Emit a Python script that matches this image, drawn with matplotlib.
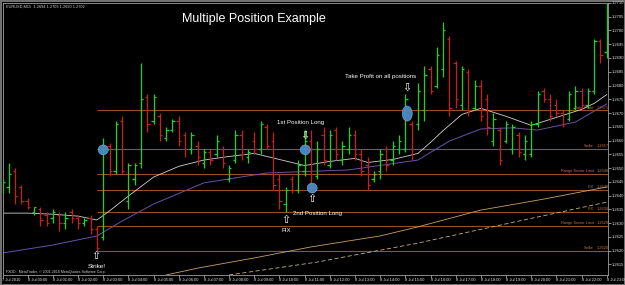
import numpy as np
import matplotlib
matplotlib.use("Agg")
from matplotlib import pyplot as plt
from matplotlib.patches import Ellipse

# M15 bars, 7 Jul 23:00 .. 8 Jul 23:00
opens = [1.2643, 1.2643, 1.2649, 1.2643, 1.2638, 1.2634, 1.2635, 1.2633, 1.2632, 1.2633,
         1.2630, 1.2634, 1.2632, 1.2630, 1.2632, 1.2628, 1.2625, 1.2658, 1.2649, 1.2667,
         1.2638, 1.2646, 1.2652, 1.2676, 1.2667, 1.2669, 1.2661, 1.2664, 1.2667, 1.2662,
         1.2657, 1.2658, 1.2652, 1.2656, 1.2655, 1.2657, 1.2646, 1.2653, 1.2662, 1.2654,
         1.2660, 1.2657, 1.2665, 1.2660, 1.2646, 1.2637, 1.2646, 1.2642, 1.2649, 1.2660,
         1.2647, 1.2662, 1.2651, 1.2664, 1.2653, 1.2657, 1.2662, 1.2655, 1.2651, 1.2646,
         1.2649, 1.2657, 1.2653, 1.2657, 1.2657, 1.2666, 1.2666, 1.2671, 1.2686, 1.2680,
         1.2686, 1.2697, 1.2688, 1.2673, 1.2685, 1.2672, 1.2680, 1.2675, 1.2660, 1.2664,
         1.2660, 1.2657, 1.2662, 1.2655, 1.2655, 1.2666, 1.2678, 1.2675, 1.2673, 1.2670,
         1.2668, 1.2672, 1.2678, 1.2673, 1.2678, 1.2696, 1.2692]
highs = [1.2646, 1.2652, 1.2650, 1.2644, 1.2639, 1.2636, 1.2636, 1.2634, 1.2635, 1.2634,
         1.2634, 1.2635, 1.2633, 1.2632, 1.2633, 1.2629, 1.2661, 1.2659, 1.2667, 1.2669,
         1.2652, 1.2652, 1.2688, 1.2677, 1.2677, 1.2670, 1.2665, 1.2668, 1.2669, 1.2663,
         1.2663, 1.2660, 1.2657, 1.2657, 1.2662, 1.2658, 1.2651, 1.2664, 1.2664, 1.2657,
         1.2663, 1.2667, 1.2666, 1.2663, 1.2648, 1.2643, 1.2647, 1.2653, 1.2664, 1.2664,
         1.2660, 1.2665, 1.2664, 1.2665, 1.2660, 1.2665, 1.2664, 1.2657, 1.2654, 1.2649,
         1.2657, 1.2658, 1.2660, 1.2662, 1.2677, 1.2667, 1.2681, 1.2687, 1.2687, 1.2694,
         1.2703, 1.2698, 1.2689, 1.2687, 1.2686, 1.2682, 1.2682, 1.2677, 1.2670, 1.2665,
         1.2667, 1.2666, 1.2663, 1.2662, 1.2667, 1.2678, 1.2679, 1.2677, 1.2675, 1.2671,
         1.2678, 1.2680, 1.2679, 1.2679, 1.2697, 1.2697, 1.2710]
lows = [1.2641, 1.2641, 1.2637, 1.2637, 1.2635, 1.2633, 1.2629, 1.2629, 1.2630, 1.2627,
        1.2628, 1.2630, 1.2628, 1.2629, 1.2626, 1.2620, 1.2624, 1.2647, 1.2648, 1.2648,
        1.2635, 1.2644, 1.2650, 1.2663, 1.2666, 1.2660, 1.2660, 1.2663, 1.2658, 1.2654,
        1.2655, 1.2651, 1.2650, 1.2651, 1.2654, 1.2650, 1.2645, 1.2652, 1.2653, 1.2652,
        1.2655, 1.2655, 1.2657, 1.2642, 1.2635, 1.2634, 1.2641, 1.2641, 1.2647, 1.2642,
        1.2646, 1.2651, 1.2650, 1.2653, 1.2651, 1.2655, 1.2653, 1.2647, 1.2642, 1.2645,
        1.2646, 1.2649, 1.2651, 1.2655, 1.2656, 1.2653, 1.2664, 1.2667, 1.2677, 1.2679,
        1.2683, 1.2669, 1.2672, 1.2671, 1.2669, 1.2671, 1.2667, 1.2662, 1.2658, 1.2651,
        1.2659, 1.2655, 1.2654, 1.2653, 1.2654, 1.2665, 1.2674, 1.2667, 1.2669, 1.2665,
        1.2667, 1.2671, 1.2671, 1.2672, 1.2677, 1.2688, 1.2690]
closes = [1.2645, 1.2648, 1.2640, 1.2638, 1.2636, 1.2636, 1.2631, 1.2630, 1.2634, 1.2630,
          1.2632, 1.2632, 1.2630, 1.2631, 1.2628, 1.2621, 1.2658, 1.2649, 1.2666, 1.2649,
          1.2651, 1.2651, 1.2675, 1.2666, 1.2676, 1.2662, 1.2664, 1.2667, 1.2660, 1.2657,
          1.2662, 1.2654, 1.2656, 1.2653, 1.2660, 1.2652, 1.2650, 1.2662, 1.2655, 1.2656,
          1.2657, 1.2666, 1.2658, 1.2644, 1.2638, 1.2642, 1.2642, 1.2651, 1.2660, 1.2644,
          1.2657, 1.2653, 1.2662, 1.2655, 1.2658, 1.2662, 1.2655, 1.2649, 1.2644, 1.2648,
          1.2655, 1.2651, 1.2658, 1.2660, 1.2675, 1.2657, 1.2678, 1.2684, 1.2678, 1.2691,
          1.2700, 1.2672, 1.2675, 1.2686, 1.2671, 1.2680, 1.2669, 1.2665, 1.2668, 1.2653,
          1.2666, 1.2665, 1.2656, 1.2660, 1.2666, 1.2677, 1.2675, 1.2669, 1.2670, 1.2666,
          1.2677, 1.2678, 1.2673, 1.2678, 1.2696, 1.2691, 1.2709]

# moving averages, sampled at bar positions
ma_fast_bars = [0, 4, 8, 12, 15, 17, 20, 24, 28, 32, 36, 40, 44, 48, 52, 56, 58, 62, 66,
                68, 70, 73, 76, 80, 84, 88, 92, 94, 96]
ma_fast = [1.26336, 1.26336, 1.26332, 1.26325, 1.26311, 1.26344, 1.26398, 1.26467, 1.26506,
           1.26529, 1.26542, 1.26553, 1.26531, 1.26509, 1.26524, 1.26535, 1.26520, 1.26531,
           1.26553, 1.26593, 1.26636, 1.26695, 1.26717, 1.26688, 1.26655, 1.26684, 1.26713,
           1.26735, 1.26767]
ma_slow_bars = [0, 8, 15, 19, 24, 32, 42, 55, 66, 71, 76, 81, 85, 91, 96]
ma_slow = [1.26191, 1.26220, 1.26253, 1.26307, 1.26369, 1.26446, 1.26482, 1.26493, 1.26529,
           1.26598, 1.26642, 1.26646, 1.26638, 1.26667, 1.26733]
trend_bars = [26, 31, 40, 49, 60, 66, 76, 86, 96]
trend = [1.26111, 1.26136, 1.26173, 1.26213, 1.26253, 1.26286, 1.26347, 1.26387, 1.26431]
trend2_bars = [36, 50, 66, 82, 96]
trend2 = [1.26111, 1.26158, 1.26227, 1.26307, 1.26376]

# horizontal levels
level_names = ["Take Profit", "Strike", "Range Sector Limit", "FIX", "FIX",
               "Range Sector Limit", "Strike"]
level_prices = [1.2671, 1.2657, 1.2648, 1.2642, 1.2634, 1.2629, 1.2620]

tick_labels = ["7 Jul 2010"] + ["8 Jul %02d:00" % h for h in range(24)]

GREEN = "#1fd21f"
RED = "#c81e1e"
LEVEL = "#96502e"
LABEL = "#c8703c"

fig = plt.figure(figsize=(6.25, 2.85), dpi=100, facecolor="black")
fig.patch.set_edgecolor("#707070")
fig.patch.set_linewidth(2)
ax = fig.add_axes([0.004, 0.0351, 0.9688, 0.9544], facecolor="black")

idx = np.arange(len(opens))
cols = [GREEN if c >= o else RED for o, c in zip(opens, closes)]

# levels
ax.hlines(level_prices, 15, 100, colors=LEVEL, lw=0.8, zorder=1)
for name, p in zip(level_names, level_prices):
    ax.text(93.9, p + 0.00002, name, color=LABEL, fontsize=2.8, ha="right", va="bottom",
            family="Liberation Sans", zorder=2)
    ax.text(94.4, p + 0.00002, "%.4f" % p, color=LABEL, fontsize=2.8, ha="left", va="bottom",
            family="Liberation Sans", zorder=2)

ax.plot(trend_bars, trend, color="#c8a064", lw=0.6, zorder=2)
ax.plot(trend2_bars, trend2, color="#c8b080", lw=0.6, dashes=(5, 3), zorder=2)
ax.plot(ma_slow_bars, ma_slow, color="#6a50a8", lw=0.7, zorder=2)
ax.plot(ma_fast_bars, ma_fast, color="#d0d0d0", lw=0.6, zorder=2)

# OHLC bars
ax.vlines(idx, lows, highs, colors=cols, lw=0.9, zorder=3)
ax.hlines(opens, idx - 0.38, idx, colors=cols, lw=0.9, zorder=3)
ax.hlines(closes, idx, idx + 0.38, colors=cols, lw=0.9, zorder=3)

# entry markers
for cx, cy, h in [(16.0, 1.26566, 0.00036), (48.1, 1.26566, 0.00036),
                  (49.2, 1.26427, 0.00036), (64.3, 1.26698, 0.00055)]:
    ax.add_patch(Ellipse((cx, cy), 1.6, h, facecolor="#4a8cc4", edgecolor="#7fb0d8",
                         lw=0.4, alpha=0.95, zorder=4))

txt = dict(color="white", family="Liberation Sans", ha="center", va="center", zorder=5)
arr = dict(color="white", family="DejaVu Sans", ha="center", va="center", fontsize=8, zorder=5)
ax.text(40.0, 1.2704, "Multiple Position Example", fontsize=9, **txt)
ax.text(60.1, 1.26831, "Take Profit on all positions", fontsize=4.4, **txt)
ax.text(64.3, 1.26791, "\u21e9", **arr)
ax.text(47.3, 1.26664, "1st Position Long", fontsize=4.4, **txt)
ax.text(48.1, 1.26617, "\u21e9", **arr)
ax.text(50.1, 1.26333, "2nd Position Long", fontsize=4.4, **txt)
ax.text(49.2, 1.26387, "\u21e7", **arr)
ax.text(45.05, 1.26271, "FIX", fontsize=4.4, **txt)
ax.text(45.05, 1.26311, "\u21e7", **arr)
ax.text(14.9, 1.26142, "Strike!", fontsize=4.6, **txt)
ax.text(14.9, 1.26180, "\u21e7", **arr)

ax.text(0.005, 0.995, "EURUSD,M15  1.2694 1.2703 1.2690 1.2702", transform=ax.transAxes,
        color="#d0d0d0", fontsize=2.8, ha="left", va="top", family="Liberation Sans")
ax.text(0.005, 0.002, "FXDD - MetaTrader, \u00a9 2001-2010 MetaQuotes Software Corp.",
        transform=ax.transAxes, color="#d0d0d0", fontsize=2.6, ha="left", va="bottom",
        family="Liberation Sans")

ax.set_xlim(0.05, 96.2)
ax.set_ylim(1.26111, 1.2710)

ax.set_xticks(np.arange(0, 97, 4))
ax.set_xticklabels(tick_labels, fontsize=2.9, color="#e0e0e0", ha="left",
                   family="Liberation Sans")
ax.tick_params(axis="x", length=2, width=0.5, color="#c0c0c0", pad=0.5)
ax.yaxis.tick_right()
ax.set_yticks(np.arange(1.2615, 1.27101, 0.0005))
ax.set_yticklabels(["%.4f" % v for v in np.arange(1.2615, 1.27101, 0.0005)],
                   fontsize=3.0, color="#e0e0e0", family="Liberation Sans")
ax.tick_params(axis="y", length=2, width=0.5, color="#c0c0c0", pad=1)
for s in ax.spines.values():
    s.set_color("#a0a0a0")
    s.set_linewidth(0.6)

fig.savefig("out.png", dpi=100, facecolor="black")
